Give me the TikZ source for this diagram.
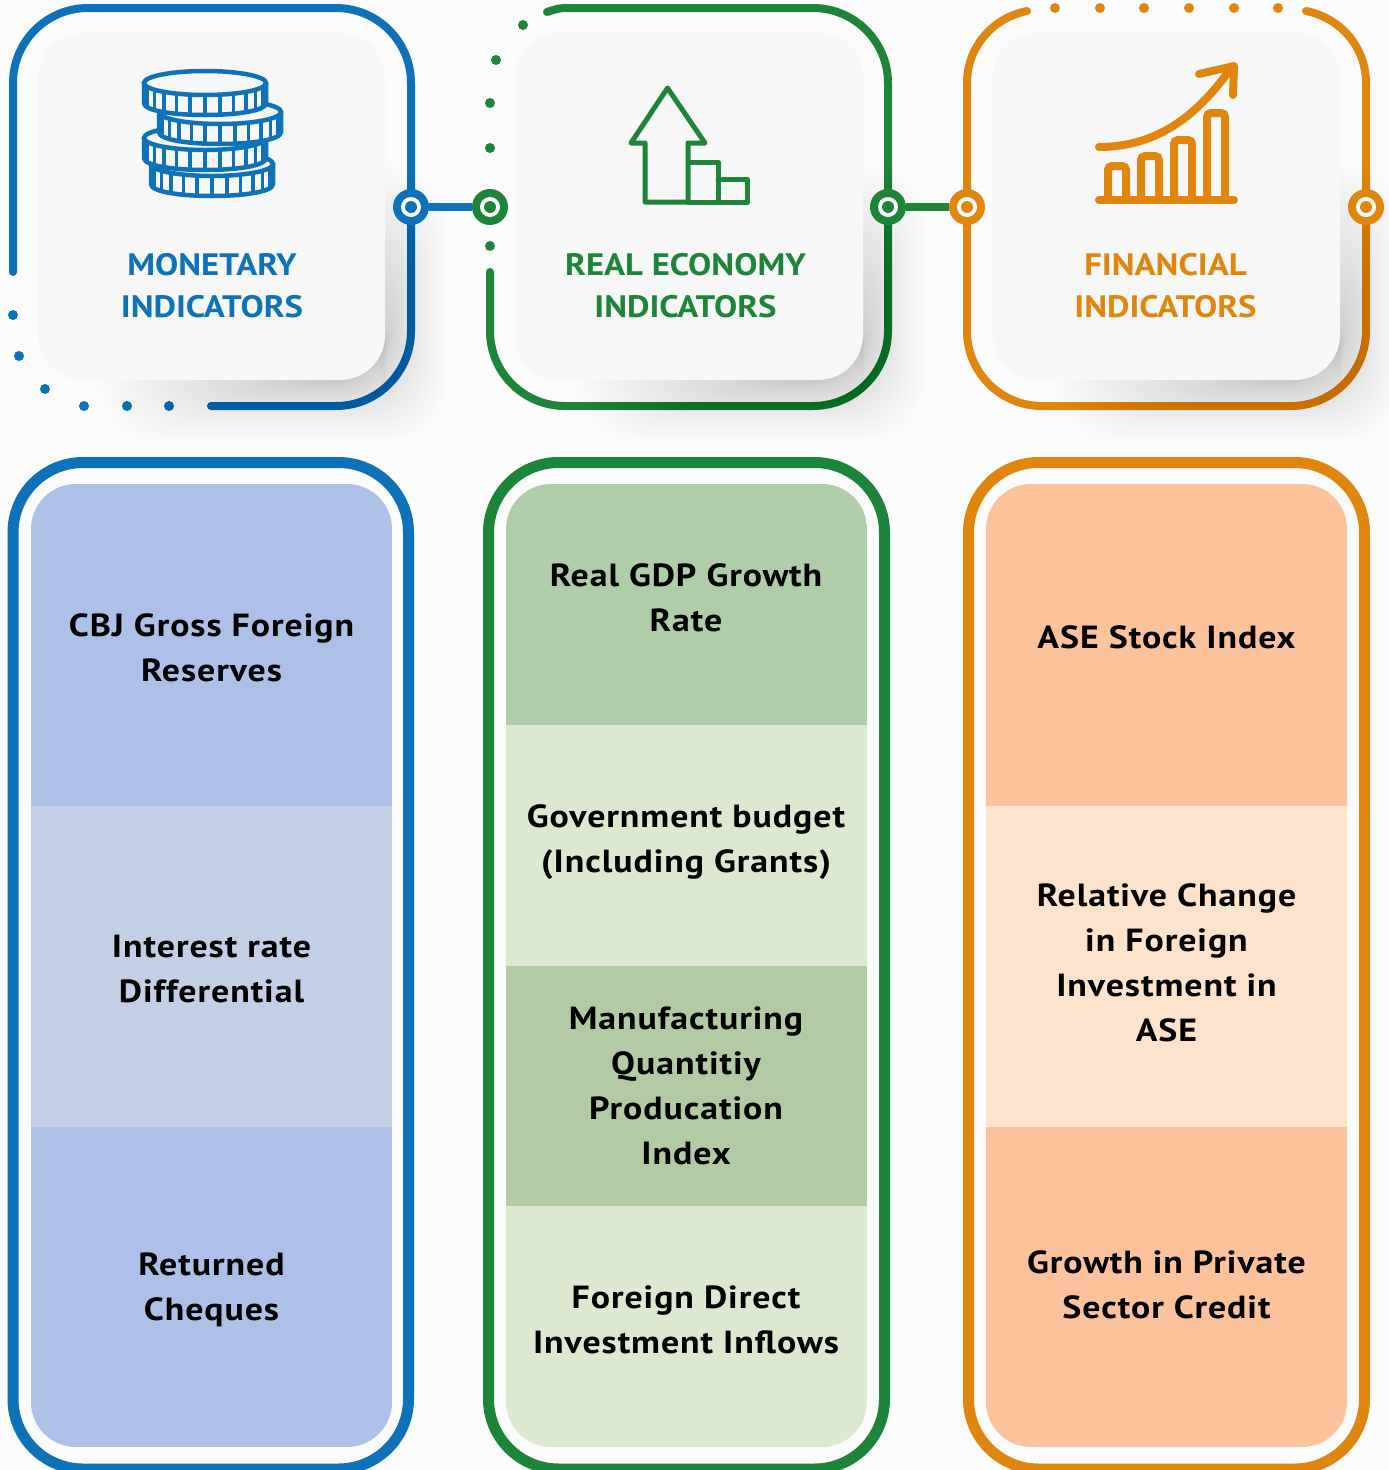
\documentclass[tikz,border=0pt]{standalone}
\usepackage{fontspec}
\setmainfont{PT Sans}
\newfontfamily\bodyfont[LetterSpace=3,FakeStretch=1.12]{PT Sans}
\newfontfamily\headfont[FakeStretch=1.12]{PT Sans}
\definecolor{cblue}{HTML}{0E72B8}
\definecolor{cgreen}{HTML}{1C8539}
\definecolor{corange}{HTML}{E0860F}
\definecolor{bgc}{HTML}{FBFBFB}
\definecolor{cardc}{HTML}{F7F7F8}
\definecolor{bA}{HTML}{ADC0E7}
\definecolor{bB}{HTML}{C2CFE6}
\definecolor{gA}{HTML}{B0CDA9}
\definecolor{gB}{HTML}{DCE8D0}
\definecolor{gC}{HTML}{B3CBA5}
\definecolor{oA}{HTML}{FBC29C}
\definecolor{oB}{HTML}{FDE2CC}
\tikzset{
  ringline/.style={line width=8pt,line cap=round,line join=round},
  outerring/.style={line width=11pt,rounded corners=70pt},
  hubnode/.style={circle,fill=#1,minimum size=36pt,inner sep=0pt,outer sep=0pt},
  head/.style={text=#1,font=\fontsize{31}{42}\selectfont\headfont\bfseries,align=center,inner sep=0pt},
  body/.style={text=black,font=\fontsize{32}{45}\selectfont\bodyfont\bfseries,align=center,inner sep=0pt},
  cardbox/.style={fill=cardc,rounded corners=45pt},
  iconline/.style={line width=#1,line join=round,line cap=round}
}
\newcommand{\hubinner}[2]{%
  \fill[white] (#1) circle[radius=10pt];
  \fill[#2] (#1) circle[radius=6pt];}
\newcommand{\dotsat}[2]{%
  \foreach \p in {#2} {\fill[#1] \p circle[radius=5pt];}}
\newcommand{\cardshadow}[4]{%
  \foreach \k in {0,...,59} {
    \pgfmathsetmacro{\shT}{\k/59}
    \pgfmathsetmacro{\shE}{62*pow(1-\shT,1.9)}
    \pgfmathsetmacro{\shXa}{#1+60+215*\shT}
    \pgfmathsetmacro{\shYa}{#2+130+180*\shT}
    \pgfmathsetmacro{\shXb}{#3+\shE}
    \pgfmathsetmacro{\shYb}{#4+\shE}
    \fill[black,opacity=.0058,rounded corners=60pt] (\shXa,\shYa) rectangle (\shXb,\shYb);
  }}
\newcommand{\coin}[2]{%
  \pgfmathsetmacro{\coL}{#1-61}
  \pgfmathsetmacro{\coR}{#1+61}
  \pgfmathsetmacro{\coB}{#2+20}
  \pgfmathsetmacro{\coC}{#2+20+16}
  \filldraw[draw=cblue,fill=cardc,iconline=4.5pt] (\coL,#2) -- (\coL,\coB) .. controls (\coL,\coC) and (\coR,\coC) .. (\coR,\coB) -- (\coR,#2) -- cycle;
  \foreach \a in {20,34,...,160} {
    \pgfmathsetmacro{\coX}{#1+61*cos(\a)}
    \pgfmathsetmacro{\coY}{#2+12*sin(\a)}
    \pgfmathsetmacro{\coZ}{\coY+20}
    \draw[cblue,line width=3.5pt] (\coX,\coY) -- (\coX,\coZ);
  }
  \filldraw[draw=cblue,fill=cardc,line width=4.5pt] (#1,#2) ellipse[x radius=61pt,y radius=12pt];}
\begin{document}
\begin{tikzpicture}[x=1pt,y=-1pt]
\useasboundingbox (0,0) rectangle (1389,1470);
\fill[bgc] (0,0) rectangle (1389,1470);

% upper rings
\draw[ringline,cblue,rounded corners=75pt] (13,272) -- (13,8) -- (411,8) -- (411,406) -- (211,406);
\draw[ringline,cgreen] (547,12) .. controls (553,10) and (559,8) .. (565,8);
\draw[ringline,cgreen,rounded corners=75pt] (565,8) -- (888,8) -- (888,406) -- (490,406) -- (490,272);
\draw[ringline,corange] (1027,11) .. controls (992,18) and (967,47.6) .. (967,83);
\draw[ringline,corange,rounded corners=75pt] (967,83) -- (967,406) -- (1366,406) -- (1366,83);
\draw[ringline,corange] (1366,83) .. controls (1366,47.6) and (1341,18) .. (1306,11);
\dotsat{cblue}{(13,315),(19,356),(45,389),(84,406),(127,406),(169,406)}
\dotsat{cgreen}{(490,246),(490,148),(490,103),(496,60),(523,25)}
\dotsat{corange}{(1055,8),(1100,8),(1144,8),(1189,8),(1234,8),(1278,8)}

% shadows and cards
\cardshadow{38}{33}{385}{380}
\cardshadow{515}{33}{863}{380}
\cardshadow{993}{33}{1340}{380}
\fill[cardbox] (38,33) rectangle (385,380);
\fill[cardbox] (515,33) rectangle (863,380);
\fill[cardbox] (993,33) rectangle (1340,380);

% hubs and connectors
\node[hubnode=cblue] (h1) at (411,207) {};
\node[hubnode=cgreen] (h2) at (490,207) {};
\node[hubnode=cgreen] (h3) at (888,207) {};
\node[hubnode=corange] (h4) at (967,207) {};
\node[hubnode=corange] (h5) at (1366,207) {};
\draw[cblue,line width=8pt] (h1) -- (h2);
\draw[cgreen,line width=8pt] (h3) -- (h4);
\hubinner{h1}{cblue}
\hubinner{h2}{cgreen}
\hubinner{h3}{cgreen}
\hubinner{h4}{corange}
\hubinner{h5}{corange}

% coin icon
\coin{212}{164}
\coin{205}{138}
\coin{220}{112}
\coin{205}{83}

% arrow icon
\draw[cgreen,iconline=5pt] (667.5,88) -- (705,143) -- (688,143) -- (688,202) -- (645,202) -- (645,143) -- (631,143) -- cycle;
\draw[cgreen,iconline=5pt] (688,162) -- (718,162) -- (718,202) -- (688,202);
\draw[cgreen,iconline=5pt] (718,179) -- (747,179) -- (747,202) -- (718,202);

% chart icon
\draw[corange,iconline=8pt] (1099,200) -- (1234,200);
\foreach \xa/\xb/\yt in {1108/1126/166,1141/1159/156,1174/1192/140,1207/1225/113} {
  \draw[corange,line width=8pt,rounded corners=4pt] (\xa,200) -- (\xa,\yt) -- (\xb,\yt) -- (\xb,200);
}
\draw[corange,iconline=8pt] (1099,147) .. controls (1160,147) and (1200,112) .. (1231,68);
\draw[corange,iconline=8pt] (1199,74) -- (1234,66) -- (1233,95);

% headings
\node[head=cblue] (t1) at (212,288.5) {\strut MONETARY\\\strut INDICATORS};
\node[head=cgreen] (t2) at (685.5,288.5) {\strut REAL ECONOMY\\\strut INDICATORS};
\node[head=corange] (t3) at (1165.5,288.5) {\strut FINANCIAL\\\strut INDICATORS};

% panel frames
\draw[outerring,cblue] (13,462.5) rectangle (408.5,1469);
\draw[outerring,cgreen] (488.5,462.5) rectangle (884.5,1469);
\draw[outerring,corange] (968.5,462.5) rectangle (1364.5,1469);

% panel 1
\begin{scope}
\clip[rounded corners=45pt] (31,484) rectangle (392,1447);
\fill[bA] (31,484) rectangle (392,806);
\fill[bB] (31,806) rectangle (392,1127);
\fill[bA] (31,1127) rectangle (392,1447);
\end{scope}
% panel 2
\begin{scope}
\clip[rounded corners=45pt] (506,484) rectangle (867,1447);
\fill[gA] (506,484) rectangle (867,725);
\fill[gB] (506,725) rectangle (867,966);
\fill[gC] (506,966) rectangle (867,1206);
\fill[gB] (506,1206) rectangle (867,1447);
\end{scope}
% panel 3
\begin{scope}
\clip[rounded corners=45pt] (986,484) rectangle (1347,1447);
\fill[oA] (986,484) rectangle (1347,806);
\fill[oB] (986,806) rectangle (1347,1127);
\fill[oA] (986,1127) rectangle (1347,1447);
\end{scope}

% panel texts
\node[body] (a1) at (211.5,649.5) {\strut CBJ Gross Foreign\\\strut Reserves};
\node[body] (a2) at (211.5,970.5) {\strut Interest rate\\\strut Differential};
\node[body] (a3) at (211.5,1288.5) {\strut Returned\\\strut Cheques};
\node[body] (b1) at (686,599.5) {\strut Real GDP Growth\\\strut Rate};
\node[body] (b2) at (686,840.5) {\strut Government budget\\\strut (Including Grants)};
\node[body] (b3) at (686,1087.5) {\strut Manufacturing\\\strut Quantitiy\\\strut Producation\\\strut Index};
\node[body] (b4) at (686,1321.5) {\strut Foreign Direct\\\strut Investment Inflows};
\node[body] (c1) at (1166.5,639) {\strut ASE Stock Index};
\node[body] (c2) at (1166.5,965) {\strut Relative Change\\\strut in Foreign\\\strut Investment in\\\strut ASE};
\node[body] (c3) at (1166.5,1286.5) {\strut Growth in Private\\\strut Sector Credit};
\end{tikzpicture}
\end{document}
